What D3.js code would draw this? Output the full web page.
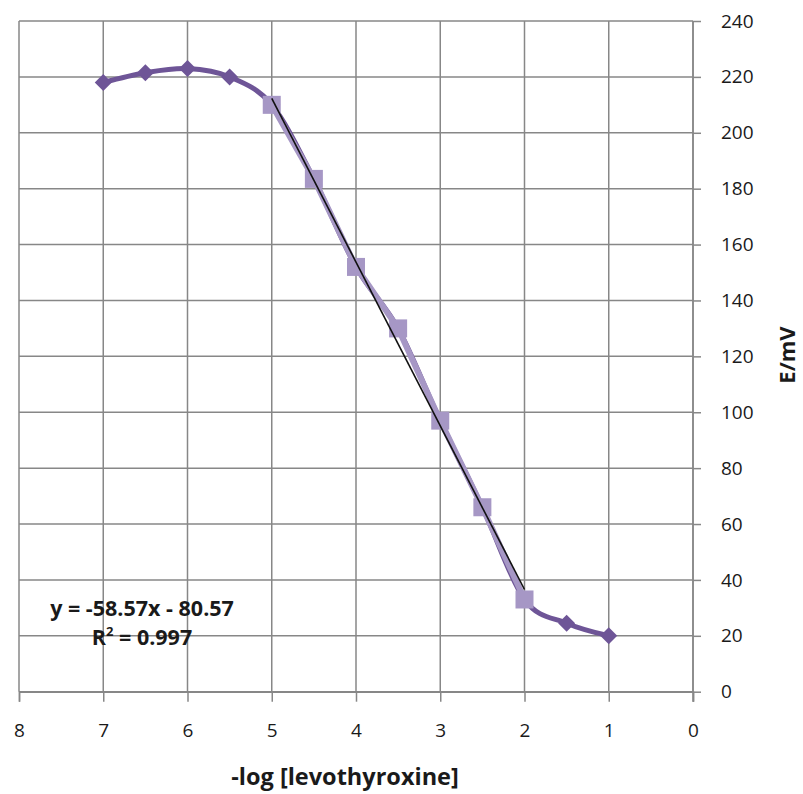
<!DOCTYPE html>
<html>
<head>
<meta charset="utf-8">
<script src="https://cdn.jsdelivr.net/npm/d3@7/dist/d3.min.js"></script>
<style>
  html, body { margin: 0; padding: 0; background: #fff; }
  svg { display: block; }
  text { font-family: "Open Sans", "Lato", sans-serif; fill: #1a1a1a; }
</style>
</head>
<body>
<svg id="chart" width="803" height="794"></svg>
<script>
// ---- data ----
const xTicks = [8, 7, 6, 5, 4, 3, 2, 1, 0];
const yTicks = [0, 20, 40, 60, 80, 100, 120, 140, 160, 180, 200, 220, 240];
const allX = [7, 6.5, 6, 5.5, 5, 4.5, 4, 3.5, 3, 2.5, 2, 1.5, 1];
const allY = [218, 221.5, 223, 220, 210, 183.5, 152, 130, 97, 66, 33, 24.5, 20];
const linX = [5, 4.5, 4, 3.5, 3, 2.5, 2];
const linY = [210, 183.5, 152, 130, 97, 66, 33];
const trendSlope = 58.57;
const trendIntercept = -80.57;
const trendRange = [5, 2];
const eqLines = ["y = -58.57x - 80.57", "R\u00b2 = 0.997"];
const xTitle = "-log [levothyroxine]";
const yTitle = "E/mV";

// ---- layout ----
const svg = d3.select("#chart");
const mLeft = 19, mRight = 693, mTop = 21, mBottom = 691.7;
const x = d3.scaleLinear().domain([8, 0]).range([mLeft, mRight]);
const y = d3.scaleLinear().domain([0, 240]).range([mBottom, mTop]);

const gridColor = "#878787";
const darkPurple = "#6E5597";
const lightPurple = "#A697C5";

// grid
svg.append("g").selectAll("line").data(xTicks).join("line")
  .attr("x1", d => x(d)).attr("x2", d => x(d))
  .attr("y1", mTop).attr("y2", mBottom)
  .attr("stroke", gridColor).attr("stroke-width", 1.5);
svg.append("g").selectAll("line").data(yTicks).join("line")
  .attr("x1", mLeft).attr("x2", mRight)
  .attr("y1", d => y(d)).attr("y2", d => y(d))
  .attr("stroke", gridColor).attr("stroke-width", 1.5);

// x axis (bottom)
const xAxis = d3.axisBottom(x).tickValues(xTicks).tickSize(10).tickPadding(22)
  .tickFormat(d3.format("d"));
const gx = svg.append("g").attr("transform", `translate(0,${mBottom})`).call(xAxis);
gx.select(".domain").attr("stroke", gridColor).attr("stroke-width", 1.5);
gx.selectAll(".tick line").attr("stroke", gridColor).attr("stroke-width", 1.5);
gx.selectAll(".tick text").attr("font-size", 19).attr("font-family", "Open Sans").attr("fill", "#1a1a1a");

// y axis (right)
const yAxis = d3.axisRight(y).tickValues(yTicks).tickSize(8).tickPadding(20);
const gy = svg.append("g").attr("transform", `translate(${mRight},0)`).call(yAxis);
gy.select(".domain").attr("stroke", gridColor).attr("stroke-width", 1.5)
  .attr("d", `M0,${mTop}V${mBottom + 10}`);
gy.selectAll(".tick line").attr("stroke", gridColor).attr("stroke-width", 1.5);
gy.selectAll(".tick text").attr("font-size", 19).attr("font-family", "Open Sans").attr("fill", "#1a1a1a");

// series
const allPts = allX.map((d, i) => [d, allY[i]]);
const linPts = linX.map((d, i) => [d, linY[i]]);

const smooth = d3.line().x(d => x(d[0])).y(d => y(d[1])).curve(d3.curveCardinal.tension(0));
svg.append("path").datum(allPts).attr("d", smooth)
  .attr("fill", "none").attr("stroke", darkPurple).attr("stroke-width", 5)
  .attr("stroke-linejoin", "round").attr("stroke-linecap", "round");

const straight = d3.line().x(d => x(d[0])).y(d => y(d[1]));
svg.append("path").datum(linPts).attr("d", straight)
  .attr("fill", "none").attr("stroke", lightPurple).attr("stroke-width", 6)
  .attr("stroke-linejoin", "round");

// diamonds
svg.append("g").selectAll("path").data(allPts).join("path")
  .attr("transform", d => `translate(${x(d[0])},${y(d[1])})`)
  .attr("d", "M0,-8.5L8.5,0L0,8.5L-8.5,0Z")
  .attr("fill", darkPurple);

// squares
svg.append("g").selectAll("rect").data(linPts).join("rect")
  .attr("x", d => x(d[0]) - 9).attr("y", d => y(d[1]) - 9)
  .attr("width", 18).attr("height", 18)
  .attr("fill", lightPurple);

// trendline
svg.append("line")
  .attr("x1", x(trendRange[0])).attr("y1", y(trendSlope * trendRange[0] + trendIntercept))
  .attr("x2", x(trendRange[1])).attr("y2", y(trendSlope * trendRange[1] + trendIntercept))
  .attr("stroke", "#111").attr("stroke-width", 1.6);

// equation
const eq = svg.append("g").attr("font-weight", "bold").attr("font-size", 21.5);
eq.append("text").attr("x", 142).attr("y", 616).attr("text-anchor", "middle").text(eqLines[0]);
const r2 = eq.append("text").attr("x", 142).attr("y", 645).attr("text-anchor", "middle");
r2.append("tspan").text("R");
r2.append("tspan").attr("font-size", 13).attr("dy", -9).text("2");
r2.append("tspan").attr("dy", 9).text(" = 0.997");

// titles
svg.append("text").attr("x", 345).attr("y", 785).attr("text-anchor", "middle")
  .attr("font-weight", "bold").attr("font-size", 23.5).text(xTitle);
svg.append("text").attr("transform", "translate(795,355) rotate(-90)")
  .attr("text-anchor", "middle").attr("font-weight", "bold").attr("font-size", 22).text(yTitle);
</script>
</body>
</html>
